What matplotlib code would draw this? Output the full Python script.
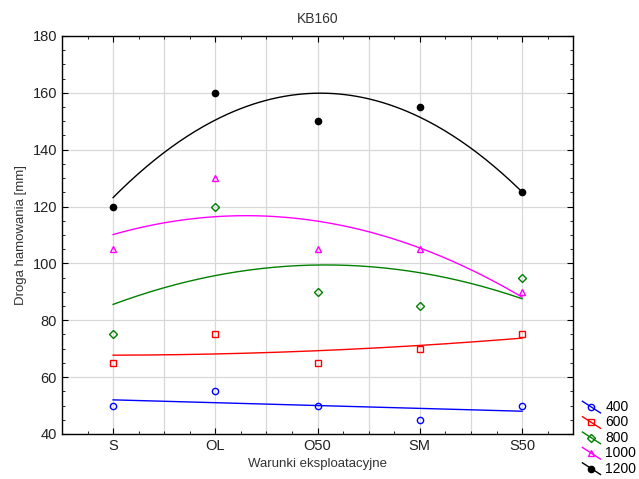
import numpy as np
import matplotlib.pyplot as plt
from matplotlib.ticker import MultipleLocator
from matplotlib.legend_handler import HandlerLine2D
from matplotlib.lines import Line2D

plt.rcParams['font.family'] = ['Liberation Sans', 'DejaVu Sans']

categories = ['S', 'OL', 'O50', 'SM', 'S50']
series_names = ['400', '600', '800', '1000', '1200']
v400 = [50, 55, 50, 45, 50]
v600 = [65, 75, 65, 70, 75]
v800 = [75, 120, 90, 85, 95]
v1000 = [105, 130, 105, 105, 90]
v1200 = [120, 160, 150, 155, 125]

values = [v400, v600, v800, v1000, v1200]
colors = ['#0000ff', '#ff0000', '#008000', '#ff00ff', '#000000']
markers = ['o', 's', 'D', '^', 'o']
filled = [False, False, False, False, True]
msizes = [4.5, 4.5, 3.8, 4.5, 4.5]


class DiagonalHandler(HandlerLine2D):
    # legend key drawn as a falling diagonal line with the marker in the middle
    def create_artists(self, legend, orig_handle, xdescent, ydescent,
                       width, height, fontsize, trans):
        x0, x1 = -xdescent, -xdescent + width
        y0, y1 = -ydescent + height * 1.0, -ydescent - height * 0.2
        line = Line2D([x0, x1], [y0, y1], color=orig_handle.get_color(), lw=1.0)
        mk = Line2D([(x0 + x1) / 2], [(y0 + y1) / 2], linestyle='none',
                    marker=orig_handle.get_marker(),
                    markersize=orig_handle.get_markersize(),
                    markerfacecolor=orig_handle.get_markerfacecolor(),
                    markeredgecolor=orig_handle.get_markeredgecolor())
        line.set_transform(trans)
        mk.set_transform(trans)
        return [line, mk]


fig = plt.figure(figsize=(6.39, 4.79), dpi=100)
ax = fig.add_axes([0.097, 0.094, 0.8, 0.831])

x = np.arange(len(categories))
xs = np.linspace(0, 4, 200)
handles = []
for name, vals, c, m, f, ms in zip(series_names, values, colors, markers, filled, msizes):
    ax.plot(x, vals, linestyle='none', marker=m, markersize=ms,
            markerfacecolor=c if f else 'none', markeredgecolor=c, markeredgewidth=1.0,
            zorder=3)
    coef = np.polyfit(x, vals, 2)
    ax.plot(xs, np.polyval(coef, xs), color=c, lw=1.0, zorder=2)
    h, = ax.plot([], [], color=c, lw=1.0, marker=m, markersize=ms,
                 markerfacecolor=c if f else 'none', markeredgecolor=c)
    handles.append(h)

ax.set_xlim(-0.5, 4.5)
ax.set_ylim(40, 180)
ax.set_xticks(x)
ax.set_xticklabels(categories)
ax.xaxis.set_minor_locator(MultipleLocator(0.25))
ax.yaxis.set_major_locator(MultipleLocator(20))
ax.yaxis.set_minor_locator(MultipleLocator(5))
for gx in np.arange(-0.5, 4.6, 0.5):
    ax.axvline(gx, color='#d8d8d8', lw=0.9, zorder=0)
ax.grid(axis='y', color='#d8d8d8', lw=0.9, zorder=0)
ax.set_axisbelow(True)
ax.tick_params(which='both', direction='in', top=True, right=True, labelsize=10.5, colors='black')
ax.tick_params(axis='both', labelcolor='#222222')
ax.tick_params(which='major', length=4)
ax.tick_params(which='minor', length=2.5)
for s in ax.spines.values():
    s.set_linewidth(1.0)

ax.set_title('KB160', fontsize=10, color='#333333', pad=9)
ax.set_xlabel('Warunki eksploatacyjne', fontsize=9.5, color='#333333')
ax.set_ylabel('Droga hamowania [mm]', fontsize=9.5, color='#333333')

fig.legend(handles, series_names, loc='lower left', bbox_to_anchor=(0.906, 0.0),
           frameon=False, fontsize=10, handlelength=1.3, handletextpad=0.35,
           labelspacing=0.1, borderaxespad=0.05, borderpad=0.2,
           handler_map={Line2D: DiagonalHandler()})

fig.savefig('out.png', dpi=100)
